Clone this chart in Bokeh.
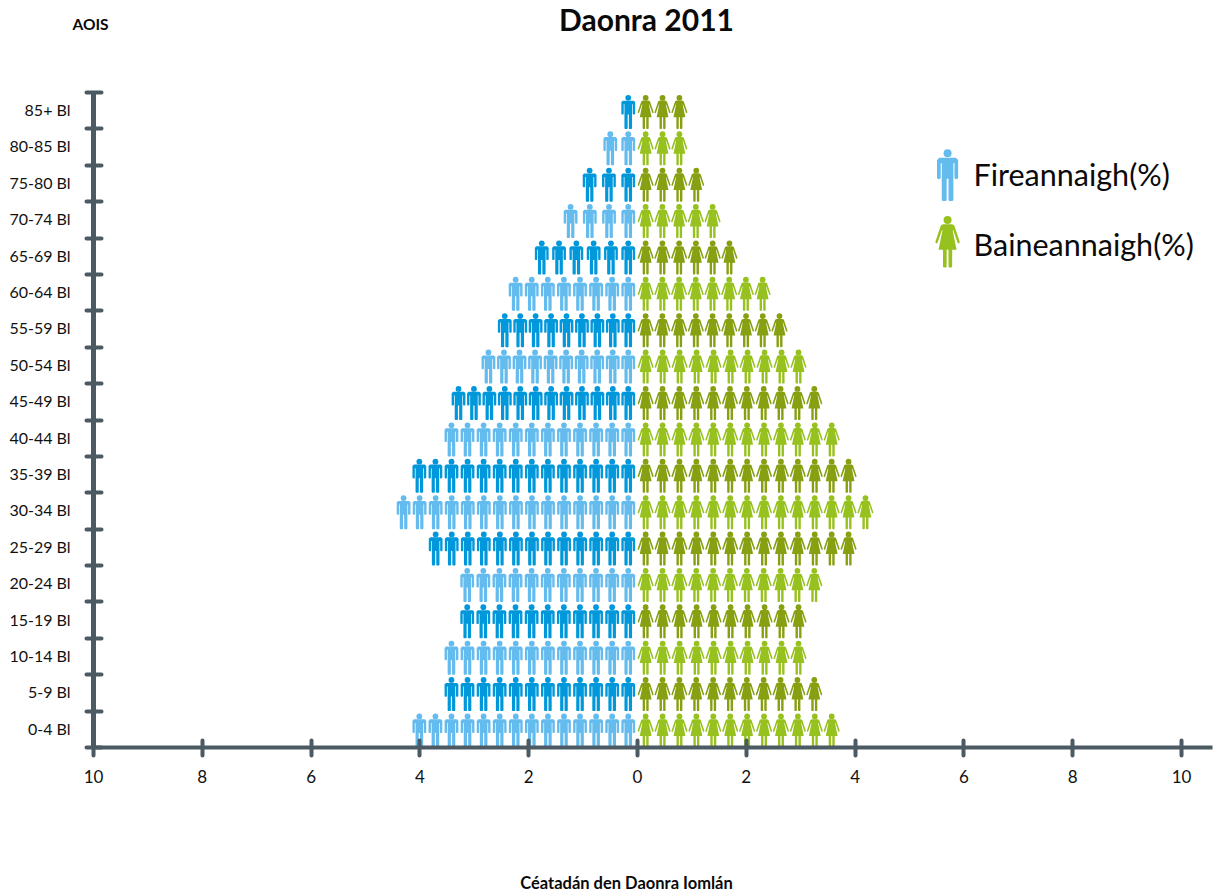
from bokeh.plotting import figure
from bokeh.layouts import column
from bokeh.models import Range1d, FixedTicker, Label
from bokeh.embed import file_html
from bokeh.resources import INLINE

age_groups = ["0-4 Bl", "5-9 Bl", "10-14 Bl", "15-19 Bl", "20-24 Bl", "25-29 Bl",
              "30-34 Bl", "35-39 Bl", "40-44 Bl", "45-49 Bl", "50-54 Bl", "55-59 Bl",
              "60-64 Bl", "65-69 Bl", "70-74 Bl", "75-80 Bl", "80-85 Bl", "85+ Bl"]
male_icons = [14, 12, 12, 11, 11, 13, 15, 14, 12, 12, 10, 9, 8, 6, 4, 3, 2, 1]
male_outer = [4.01, 3.42, 3.42, 3.13, 3.13, 3.71, 4.30, 4.01, 3.42, 3.29, 2.74, 2.44,
              2.24, 1.76, 1.23, 0.88, 0.50, 0.17]
female_icons = [12, 11, 10, 10, 11, 13, 14, 13, 12, 11, 10, 9, 8, 6, 5, 4, 3, 3]
female_outer = [3.57, 3.25, 2.96, 2.96, 3.25, 3.88, 4.19, 3.88, 3.57, 3.25, 2.96, 2.61,
                2.30, 1.69, 1.38, 1.08, 0.77, 0.77]
x_ticks = [-10, -8, -6, -4, -2, 0, 2, 4, 6, 8, 10]

MALE_LIGHT, MALE_DARK = "#63BBEE", "#0098DB"
FEMALE_LIGHT, FEMALE_DARK = "#97C11F", "#86A012"
AXIS = "#4B5A63"
FONT = "Lato"

PX_X, PX_Y = 54.4, 36.39
ICON_H = 34.0

male_half = [(0, 5.8), (5.4, 5.8), (6.9, 7.2), (6.9, 18.8), (6.4, 19.6), (5.0, 19.6),
             (4.5, 18.8), (4.5, 9.4), (3.8, 9.4), (3.8, 33.3), (3.3, 34), (1.0, 34),
             (0.6, 33.3), (0.6, 19.5), (0, 19.5)]
female_half = [(0, 5.7), (3.0, 5.7), (4.4, 6.5), (8.0, 17.3), (7.6, 18.2), (6.7, 18.2),
               (3.7, 9.6), (3.3, 9.6), (5.9, 22.4), (3.0, 22.4), (3.0, 33.4), (2.6, 34),
               (1.0, 34), (0.6, 33.4), (0.6, 22.4), (0, 22.4)]


def outline(half):
    return half + [(-a, b) for a, b in reversed(half[1:-1])]


def icon(shape, cx, base_y, scale=1.0):
    top_y = base_y + scale * ICON_H / PX_Y
    xs = [cx + scale * a / PX_X for a, b in shape]
    ys = [top_y - scale * b / PX_Y for a, b in shape]
    return xs, ys


def head_y(base_y, scale=1.0):
    return base_y + scale * (ICON_H - 2.9) / PX_Y


def text_strip(height):
    s = figure(width=1213, height=height, output_backend="svg", toolbar_location=None,
               x_range=Range1d(0, 1213), y_range=Range1d(0, height),
               x_axis_location=None, y_axis_location=None, frame_align=False,
               min_border_left=0, min_border_right=0, min_border_top=0, min_border_bottom=0,
               outline_line_color=None)
    s.grid.visible = False
    return s


def strip_label(s, text, px, py, size, align):
    s.add_layout(Label(x=px, y=py, x_units="data", y_units="data", text=text,
                       text_font=FONT, text_font_size=size, text_font_style="bold",
                       text_align=align, text_baseline="middle", text_color="#0a0a0a"))


top = text_strip(86)
strip_label(top, "Daonra 2011", 646, 86 - 18, "30px", "center")
strip_label(top, "AOIS", 72, 86 - 23, "15.5px", "left")

bottom = text_strip(30)
strip_label(bottom, "Céatadán den Daonra Iomlán", 626, 11, "16.5px", "center")

p = figure(width=1213, height=777, output_backend="svg", toolbar_location=None,
           x_range=Range1d(-10, 10.57), y_range=Range1d(0, 18), frame_align=False,
           min_border_left=93, min_border_right=1, min_border_top=6, min_border_bottom=116,
           outline_line_color=None, background_fill_color="white")
p.grid.visible = False

# x axis
p.xaxis.ticker = FixedTicker(ticks=x_ticks)
p.xaxis.major_label_overrides = {t: str(abs(t)) for t in x_ticks}
p.xaxis.major_tick_in = 7
p.xaxis.major_tick_out = 8
p.xaxis.major_tick_line_width = 4
p.xaxis.major_tick_line_cap = "round"
p.xaxis.major_tick_line_color = AXIS
p.xaxis.minor_tick_line_color = None
p.xaxis.axis_line_color = AXIS
p.xaxis.axis_line_width = 4
p.xaxis.major_label_standoff = 14
p.xaxis.major_label_text_font = FONT
p.xaxis.major_label_text_font_size = "17px"
p.xaxis.major_label_text_color = "#111111"

# y axis
band_centres = [i + 0.53 for i in range(len(age_groups))]
p.yaxis.ticker = FixedTicker(ticks=band_centres, minor_ticks=list(range(len(age_groups) + 1)))
p.yaxis.major_label_overrides = dict(zip(band_centres, age_groups))
p.yaxis.major_tick_line_color = None
p.yaxis.major_tick_in = 0
p.yaxis.major_tick_out = 0
p.yaxis.minor_tick_in = 8
p.yaxis.minor_tick_out = 7
p.yaxis.minor_tick_line_width = 4
p.yaxis.minor_tick_line_cap = "round"
p.yaxis.minor_tick_line_color = AXIS
p.yaxis.axis_line_color = AXIS
p.yaxis.axis_line_width = 5
p.yaxis.major_label_standoff = 16
p.yaxis.major_label_text_font = FONT
p.yaxis.major_label_text_font_size = "16px"
p.yaxis.major_label_text_color = "#111111"

male_shape = outline(male_half)
female_shape = outline(female_half)


def draw_side(counts, outers, inner, sign, shape, light, dark):
    xs, ys, colors, hx, hy = [], [], [], [], []
    for row, (n, outer) in enumerate(zip(counts, outers)):
        col = dark if row % 2 else light
        step = (outer - inner) / (n - 1) if n > 1 else 0
        for k in range(n):
            cx = sign * (inner + k * step)
            ix, iy = icon(shape, cx, row)
            xs.append(ix)
            ys.append(iy)
            colors.append(col)
            hx.append(cx)
            hy.append(head_y(row))
    p.patches(xs, ys, fill_color=colors, line_color=None)
    p.scatter(hx, hy, size=5.8, marker="circle", fill_color=colors, line_color=None)


draw_side(male_icons, male_outer, 0.17, -1, male_shape, MALE_LIGHT, MALE_DARK)
draw_side(female_icons, female_outer, 0.15, 1, female_shape, FEMALE_LIGHT, FEMALE_DARK)

# legend
LEGEND_X = 5.70
LEGEND_SCALE = 1.53
for shape, col, base in [(male_shape, MALE_LIGHT, 16.45 - LEGEND_SCALE * ICON_H / PX_Y),
                         (female_shape, FEMALE_LIGHT, 14.62 - LEGEND_SCALE * ICON_H / PX_Y)]:
    ix, iy = icon(shape, LEGEND_X, base, LEGEND_SCALE)
    p.patches([ix], [iy], fill_color=col, line_color=None)
    p.scatter([LEGEND_X], [head_y(base, LEGEND_SCALE)], size=8, marker="circle",
              fill_color=col, line_color=None)


def label(text, px, py, size):
    p.add_layout(Label(x=px - 93, y=747 - py, x_units="screen", y_units="screen",
                       text=text, text_font=FONT, text_font_size=size,
                       text_align="left", text_baseline="middle", text_color="#0a0a0a"))


label("Fireannaigh(%)", 973, 173, "30.5px")
label("Baineannaigh(%)", 973, 243, "30.5px")

layout = column(top, p, bottom, spacing=0)
open("out.html", "w").write(file_html(layout, INLINE))
